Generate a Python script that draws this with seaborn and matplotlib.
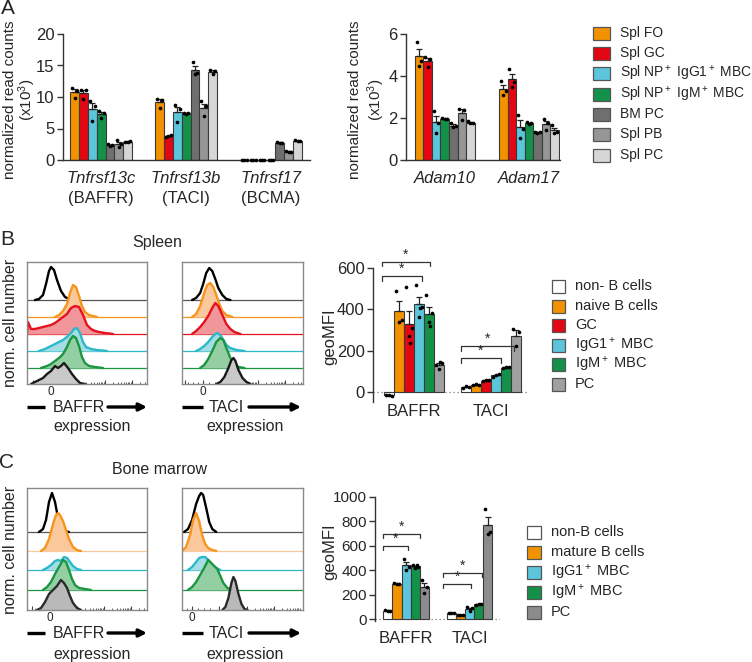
import numpy as np
import pandas as pd
import matplotlib
matplotlib.use('Agg')
import matplotlib.pyplot as plt
from matplotlib.lines import Line2D
from matplotlib.patches import FancyArrowPatch, Rectangle
from matplotlib.container import BarContainer
import seaborn as sns

sns.set_theme(style='ticks')
plt.rcParams['font.family'] = ['Liberation Sans', 'DejaVu Sans']
plt.rcParams['mathtext.fontset'] = 'custom'
plt.rcParams['mathtext.rm'] = 'Liberation Sans'
plt.rcParams['mathtext.it'] = 'Liberation Sans:italic'
plt.rcParams['mathtext.bf'] = 'Liberation Sans:bold'

# ---------------- DATA ----------------
# Panel A: normalized read counts (x10^3), three replicates per cell type
a_cells = ['Spl FO', 'Spl GC', 'Spl NP$^+$ IgG1$^+$ MBC', 'Spl NP$^+$ IgM$^+$ MBC',
           'BM PC', 'Spl PB', 'Spl PC']
a_colors = ['#f39200', '#e30613', '#5bc5dc', '#139148', '#6f6f6f', '#969696', '#d6d6d6']
a_left_genes = ['Tnfrsf13c', 'Tnfrsf13b', 'Tnfrsf17']
a_left_alias = ['(BAFFR)', '(TACI)', '(BCMA)']
a_tnfrsf13c = [[11.5, 10.9, 9.9], [11.1, 11.1, 9.7], [9.3, 8.6, 6.2], [7.8, 7.4, 6.6],
               [2.5, 2.4, 2.3], [3.2, 2.5, 2.0], [2.8, 3.0, 2.9]]
a_tnfrsf13b = [[9.7, 9.6, 8.3], [3.7, 3.9, 3.8], [8.8, 8.1, 6.0], [7.4, 7.5, 7.3],
               [15.5, 13.8, 13.7], [9.3, 8.5, 7.0], [14.3, 14.2, 13.6]]
a_tnfrsf17 = [[0.0, 0.0, 0.0], [0.0, 0.0, 0.0], [0.0, 0.0, 0.0], [0.0, 0.0, 0.0],
              [2.8, 2.7, 2.75], [1.5, 1.2, 1.2], [3.1, 3.0, 3.0]]
a_right_genes = ['Adam10', 'Adam17']
a_adam10 = [[5.6, 4.7, 4.5], [4.9, 4.8, 4.45], [2.35, 1.75, 1.27], [2.0, 1.97, 1.95],
            [1.75, 1.6, 1.55], [2.45, 2.4, 1.9], [1.85, 1.75, 1.75]]
a_adam17 = [[3.75, 3.3, 3.1], [4.35, 3.7, 3.5], [2.15, 1.5, 1.05], [1.8, 1.75, 1.7],
            [1.35, 1.32, 1.3], [1.95, 1.75, 1.45], [1.65, 1.35, 1.3]]

# Panel B: spleen geoMFI
b_cells = ['non- B cells', 'naive B cells', 'GC', 'IgG1$^+$ MBC', 'IgM$^+$ MBC', 'PC']
b_colors = ['#ffffff', '#f39200', '#e30613', '#5bc5dc', '#139148', '#a0a0a0']
b_markers = ['BAFFR', 'TACI']
b_baffr = [[-12, -18, -15], [490, 350, 340], [508, 310, 270, 237], [519, 410, 365, 405],
           [471, 382, 340, 320], [130, 140, 110, 145]]
b_taci = [[22, 25, 28], [33, 36, 37], [52, 56, 58], [75, 85, 82], [115, 120, 119],
          [305, 290, 222]]

# Panel C: bone marrow geoMFI
c_cells = ['non-B cells', 'mature B cells', 'IgG1$^+$ MBC', 'IgM$^+$ MBC', 'PC']
c_colors = ['#ffffff', '#f39200', '#5bc5dc', '#139148', '#8c8c8c']
c_markers = ['BAFFR', 'TACI']
c_baffr = [[75, 70, 65], [295, 290, 288], [490, 425, 405], [445, 430, 420, 440],
           [319, 264, 215]]
c_taci = [[48, 52, 50], [33, 36, 37], [100, 90, 70], [120, 128, 127], [900, 710, 700]]

# Histograms (x: position along expression axis, h: normalized count height)
# Spleen BAFFR: non-B, naive, GC, IgG1+ MBC, IgM+ MBC, PC
hb_baffr_x = [[8, 12, 16, 19, 22, 24, 27, 30, 34, 38, 44],
              [28, 32, 36, 40, 43, 46, 49, 52, 55, 58, 62, 66, 70],
              [0, 1, 4, 8, 12, 16, 20, 24, 28, 32, 36, 40, 44, 48, 52, 56, 60, 64, 68, 72, 78, 86],
              [12, 18, 24, 30, 36, 40, 44, 47, 50, 53, 56, 59, 64, 70, 80],
              [14, 20, 24, 28, 32, 36, 40, 43, 46, 49, 52, 55, 58, 62, 68, 76],
              [4, 8, 12, 16, 20, 24, 28, 31, 34, 37, 41, 45, 49, 53, 58]]
hb_baffr_h = [[0, 1, 5, 16, 29, 33, 30, 20, 9, 3, 0],
              [0, 2, 6, 13, 24, 32, 30, 21, 11, 5, 2, 1, 0],
              [0, 12, 5, 5, 6, 7, 8, 9, 11, 14, 17, 20, 26, 28, 27, 19, 9, 5, 3, 2, 1, 0],
              [0, 2, 5, 8, 11, 14, 18, 22, 23, 18, 9, 4, 2, 1, 0],
              [0, 2, 4, 7, 10, 14, 21, 28, 32, 30, 22, 11, 5, 2, 1, 0],
              [0, 2, 4, 6, 10, 13, 18, 16, 18, 21, 16, 10, 5, 1, 0]]
# Spleen TACI
hb_taci_x = [[10, 14, 18, 21, 24, 27, 30, 33, 36, 40, 44, 48],
             [10, 14, 18, 22, 25, 28, 31, 34, 37, 40, 44, 50],
             [10, 14, 18, 22, 26, 30, 33, 36, 40, 44, 48, 52, 58],
             [14, 18, 22, 26, 30, 33, 35, 38, 41, 44, 48, 54, 62],
             [18, 22, 26, 30, 34, 38, 41, 44, 48, 52, 56, 62],
             [34, 38, 42, 46, 49, 51, 53, 56, 60, 64, 68]]
hb_taci_h = [[0, 2, 7, 16, 27, 32, 29, 21, 12, 5, 1, 0],
             [0, 3, 11, 24, 32, 34, 30, 22, 13, 6, 2, 0],
             [0, 3, 7, 12, 18, 26, 31, 28, 19, 10, 5, 2, 0],
             [0, 2, 5, 9, 14, 17, 18, 16, 11, 6, 3, 1, 0],
             [0, 3, 9, 17, 26, 30, 28, 20, 10, 4, 1, 0],
             [0, 2, 7, 16, 24, 26, 23, 14, 6, 2, 0]]
# Bone marrow BAFFR: non-B, mature, IgG1+ MBC, IgM+ MBC, PC
hc_baffr_x = [[12, 16, 19, 22, 25, 28, 31, 34, 38, 42],
              [14, 18, 22, 26, 29, 31, 33, 36, 39, 42, 46, 50, 54],
              [16, 20, 24, 28, 31, 34, 37, 40, 43, 46, 50, 54],
              [16, 20, 24, 28, 32, 36, 39, 42, 45, 48, 52, 58, 64],
              [10, 14, 18, 22, 26, 30, 34, 37, 40, 43, 46, 50, 54]]
hc_baffr_h = [[0, 3, 12, 30, 39, 30, 14, 4, 1, 0],
              [0, 3, 12, 27, 36, 38, 36, 30, 21, 12, 4, 1, 0],
              [0, 2, 5, 9, 10, 9, 13, 12, 8, 4, 1, 0],
              [0, 3, 8, 16, 23, 30, 28, 20, 11, 5, 2, 1, 0],
              [0, 2, 8, 16, 20, 24, 30, 27, 22, 14, 7, 2, 0]]
# Bone marrow TACI
hc_taci_x = [[2, 6, 10, 14, 17, 19, 21, 24, 27, 30, 34],
             [0, 4, 8, 11, 14, 17, 20, 23, 26, 30, 34],
             [6, 10, 14, 17, 20, 23, 26, 30, 34, 38],
             [6, 10, 14, 18, 22, 26, 29, 32, 35, 38, 41, 45, 50],
             [40, 43, 46, 49, 51, 53, 56, 59, 62, 65]]
hc_taci_h = [[0, 3, 12, 28, 36, 39, 37, 24, 10, 3, 0],
             [0, 4, 16, 31, 38, 30, 16, 7, 3, 1, 0],
             [0, 3, 8, 12, 13, 13, 10, 5, 2, 0],
             [0, 3, 8, 15, 22, 30, 27, 24, 21, 14, 7, 2, 0],
             [0, 3, 12, 27, 33, 29, 16, 6, 1, 0]]

# ---------------- FIGURE ----------------
W, H = 752, 662
fig = plt.figure(figsize=(W / 100, H / 100), dpi=100)
fig.patch.set_facecolor('white')


def px_axes(x0, y0, x1, y1):
    return fig.add_axes([x0 / W, 1 - y1 / H, (x1 - x0) / W, (y1 - y0) / H])


def ftext(x, y, s, **kw):
    kw.setdefault('ha', 'center')
    kw.setdefault('va', 'center')
    fig.text(x / W, 1 - y / H, s, **kw)


def fline(x0, x1, y, lw=2.4):
    fig.add_artist(Line2D([x0 / W, x1 / W], [1 - y / H, 1 - y / H], lw=lw,
                          color='black', solid_capstyle='butt'))


def farrow(x0, x1, y):
    fig.add_artist(FancyArrowPatch((x0 / W, 1 - y / H), (x1 / W, 1 - y / H),
                                   transform=fig.transFigure, arrowstyle='-|>',
                                   mutation_scale=11, lw=2.4, color='black',
                                   shrinkA=0, shrinkB=0))


def legend_box(x, ys, labels, colors, pw, ph, tx, fs=10):
    for y, lab, col in zip(ys, labels, colors):
        fig.add_artist(Rectangle((x / W, 1 - (y + ph / 2) / H), pw / W, ph / H,
                                 transform=fig.transFigure, facecolor=col,
                                 edgecolor='#555555', lw=0.9))
        ftext(tx, y, lab, ha='left', fontsize=fs)


def style_axes(ax, tick_fs):
    sns.despine(ax=ax)
    for sp in ['left', 'bottom']:
        ax.spines[sp].set_color('#333333')
        ax.spines[sp].set_linewidth(1.0)
    ax.tick_params(axis='y', direction='out', length=4, width=1, color='#333333',
                   labelsize=tick_fs, pad=2)
    ax.tick_params(axis='x', length=0, labelbottom=False)
    ax.set_xlabel('')
    ax.set_ylabel('')
    ax.set_facecolor('none')


def bars(ax, groups, cells, reps, colors, width, edge='#3a3a3a', dot_s=7):
    rows = [(g, c, v) for g, per_cell in zip(groups, reps)
            for c, vals in zip(cells, per_cell) for v in vals]
    df = pd.DataFrame(rows, columns=['group', 'cell', 'value'])
    sns.barplot(data=df, x='group', y='value', hue='cell', order=groups, hue_order=cells,
                palette=colors, saturation=1, errorbar=None, width=width,
                edgecolor=edge, linewidth=0.8, legend=False, ax=ax, zorder=2)
    stats = df.groupby(['group', 'cell'])['value'].agg(['mean', 'sem'])
    n = len(cells)
    pos = {}
    offs = [-0.27, 0.27, 0.0, 0.14]
    patches = [p for c in ax.containers if isinstance(c, BarContainer) for p in c]
    for p in patches:
        w = p.get_width()
        xc = p.get_x() + w / 2
        gi = int(round(xc))
        ci = int(round((xc - gi) / (width / n) + (n - 1) / 2))
        pos[(gi, ci)] = (xc, w)
        m = stats.loc[(groups[gi], cells[ci]), 'mean']
        s = stats.loc[(groups[gi], cells[ci]), 'sem']
        if s > 0:
            yerr = [[0], [s]] if m >= 0 else [[s], [0]]
            ax.errorbar([xc], [m], yerr=yerr, fmt='none', ecolor='#222222',
                        elinewidth=0.9, capsize=2.2, capthick=0.9, zorder=3)
        vals = df[(df.group == groups[gi]) & (df.cell == cells[ci])]['value'].values
        xs = [xc + offs[k % 4] * w for k in range(len(vals))]
        ax.scatter(xs, vals, s=dot_s, color='black', lw=0, zorder=4, clip_on=False)
    return pos


def bracket(ax, x0, x1, y, drop, fs=10):
    ax.plot([x0, x0, x1, x1], [y - drop, y, y, y - drop], color='#333333', lw=0.9,
            clip_on=False, zorder=5)
    ax.text((x0 + x1) / 2, y, '*', ha='center', va='bottom', fontsize=fs, clip_on=False)


# ---------- Panel A ----------
axA1 = px_axes(63, 34, 310, 160)
bars(axA1, a_left_genes, a_cells, [a_tnfrsf13c, a_tnfrsf13b, a_tnfrsf17], a_colors,
     width=0.73, dot_s=7)
axA1.set_ylim(0, 20)
axA1.set_yticks([0, 5, 10, 15, 20])
axA1.set_xlim(-0.45, 2.46)
style_axes(axA1, 12)
for i, (g, al) in enumerate(zip(a_left_genes, a_left_alias)):
    axA1.annotate(g, xy=(i, 0), xycoords=('data', 'axes fraction'), xytext=(0, -13.5),
                  textcoords='offset points', ha='center', va='center', fontsize=12,
                  style='italic')
    axA1.annotate(al, xy=(i, 0), xycoords=('data', 'axes fraction'), xytext=(0, -27.5),
                  textcoords='offset points', ha='center', va='center', fontsize=12)

axA2 = px_axes(406, 34, 560, 160)
bars(axA2, a_right_genes, a_cells, [a_adam10, a_adam17], a_colors, width=0.71, dot_s=7)
axA2.set_ylim(0, 6)
axA2.set_yticks([0, 2, 4, 6])
axA2.set_xlim(-0.46, 1.37)
style_axes(axA2, 12)
for i, g in enumerate(a_right_genes):
    axA2.annotate(g, xy=(i, 0), xycoords=('data', 'axes fraction'), xytext=(0, -13.5),
                  textcoords='offset points', ha='center', va='center', fontsize=12,
                  style='italic')

for xl in (10, 355):
    ftext(xl, 100, 'normalized read counts', rotation=90, fontsize=11)
for xl in (27, 376):
    ftext(xl, 100, '(x10$^3$)', rotation=90, fontsize=11)

legend_box(593, [33, 53, 73, 94, 114, 134, 155], a_cells, a_colors, 17, 13, 620, fs=10)

ftext(8, 8, 'A', fontsize=15)
ftext(7, 239, 'B', fontsize=15)
ftext(7, 462, 'C', fontsize=15)


# ---------- Histograms ----------
def hist_panel(ax, xs_list, hs_list, bases, line_cols, fill_cols, base_cols, zero_pos):
    ax.set_xlim(0, 120)
    ax.set_ylim(0, 122)
    for i, (xs, hs, b, lc, fc, bc) in enumerate(zip(xs_list, hs_list, bases, line_cols,
                                                     fill_cols, base_cols)):
        z = 2 + i * 3
        if b > 0:
            ax.axhline(b, color=bc, lw=0.9, zorder=z)
        xa = np.asarray(xs, dtype=float)
        ya = b + np.asarray(hs, dtype=float)
        if fc is not None:
            ax.fill_between(xa, b, ya, color=fc, lw=0, zorder=z + 1)
        ax.plot(xa, ya, color=lc, lw=1.7, zorder=z + 2, solid_joinstyle='round',
                solid_capstyle='round')
    for sp in ax.spines.values():
        sp.set_color('#8a8a8a')
        sp.set_linewidth(1.0)
        sp.set_zorder(40)
    ax.set_yticks([])
    majors = [zero_pos - 18, zero_pos, zero_pos + 27, zero_pos + 54, zero_pos + 81]
    majors = [m for m in majors if 0 < m < 120]
    ax.set_xticks(majors)
    ax.set_xticklabels(['0' if m == zero_pos else '' for m in majors])
    minors = []
    for d in [zero_pos + 27, zero_pos + 54, zero_pos + 81]:
        for k in range(2, 10):
            v = d + 27 * np.log10(k)
            if 0 < v < 120:
                minors.append(v)
    for k in range(1, 4):
        minors.append(zero_pos - 5 * k)
        minors.append(zero_pos + 6 * k)
    ax.set_xticks([m for m in minors if 0 < m < 120], minor=True)
    ax.tick_params(axis='x', which='major', direction='in', length=3, width=0.8,
                   color='#444444', labelsize=8.5, pad=1.5)
    ax.tick_params(axis='x', which='minor', direction='in', length=1.6, width=0.6,
                   color='#444444')
    ax.set_facecolor('white')


hb_lines = ['#000000', '#f7941d', '#e3121d', '#2bb8c9', '#1a9641', '#1a1a1a']
hb_fills = [None, '#fbc89b', '#f1979b', '#a5dde4', '#93cfa2', '#c9c9c9']
hb_bases = [84, 67, 50, 33, 16, 0]
hb_basecol = ['#555555', '#f7941d', '#e3121d', '#2bb8c9', '#1a9641', '#8a8a8a']

axB1 = px_axes(27, 262, 147, 384)
hist_panel(axB1, hb_baffr_x, hb_baffr_h, hb_bases, hb_lines, hb_fills, hb_basecol, 24)
axB2 = px_axes(182, 262, 303, 384)
hist_panel(axB2, hb_taci_x, hb_taci_h, hb_bases, hb_lines, hb_fills, hb_basecol, 21)

hc_lines = ['#000000', '#f7941d', '#2bb8c9', '#1a9641', '#2a2a2a']
hc_fills = [None, '#fbc89b', '#a5dde4', '#93cfa2', '#b9b9b9']
hc_bases = [78, 59, 40, 20, 0]
hc_basecol = ['#555555', '#fbc89b', '#2bb8c9', '#1a9641', '#8a8a8a']

axC1 = px_axes(27, 488, 147, 610)
hist_panel(axC1, hc_baffr_x, hc_baffr_h, hc_bases, hc_lines, hc_fills, hc_basecol, 23)
axC2 = px_axes(182, 488, 303, 610)
hist_panel(axC2, hc_taci_x, hc_taci_h, hc_bases, hc_lines, hc_fills, hc_basecol, 10)

ftext(157, 243, 'Spleen', fontsize=11.5)
ftext(160, 470, 'Bone marrow', fontsize=11.5)
ftext(11, 323, 'norm. cell number', rotation=90, fontsize=11.5)
ftext(11, 550, 'norm. cell number', rotation=90, fontsize=11.5)

for yA, yE in ((407, 426), (633, 654)):
    fline(27, 45, yA)
    ftext(79, yA, 'BAFFR', fontsize=11.5)
    farrow(108, 147, yA)
    ftext(92, yE, 'expression', fontsize=11.5)
    fline(182, 203, yA)
    ftext(226, yA, 'TACI', fontsize=11.5)
    farrow(249, 301, yA)
    ftext(245, yE, 'expression', fontsize=11.5)


# ---------- Panel B bars ----------
def mfi_axes(ax, ylim, yticks, tick_fs):
    ax.set_ylim(*ylim)
    ax.set_yticks(yticks)
    style_axes(ax, tick_fs)
    ax.spines['bottom'].set_visible(False)
    ax.axhline(0, color='#777777', lw=0.9, ls=(0, (1, 2.2)), zorder=1)


axBb = px_axes(373, 268, 528, 402)
posB = bars(axBb, b_markers, b_cells, [b_baffr, b_taci], b_colors, width=0.78, dot_s=7)
axBb.set_xlim(-0.53, 1.48)
mfi_axes(axBb, (-48, 600), [0, 200, 400, 600], 12)
for i, m in enumerate(b_markers):
    axBb.annotate(m, xy=(i, 0), xycoords='data', xytext=(0, -14), textcoords='offset points',
                  ha='center', va='center', fontsize=12)
ftext(330, 337, 'geoMFI', rotation=90, fontsize=12)


def bx(pos, gi, ci, frac):
    xc, w = pos[(gi, ci)]
    return xc + frac * w


bracket(axBb, bx(posB, 0, 0, -0.7), bx(posB, 0, 3, 0.3), 561, 22)
bracket(axBb, bx(posB, 0, 0, -0.7), bx(posB, 0, 4, 0.1), 630, 22)
bracket(axBb, bx(posB, 1, 0, -0.5), bx(posB, 1, 3, 0.5), 165, 22)
bracket(axBb, bx(posB, 1, 0, -0.5), bx(posB, 1, 4, 0.8), 222, 22)
legend_box(552, [286, 306, 325, 345, 364, 384], b_cells, b_colors, 13, 13, 575, fs=10.5)

# ---------- Panel C bars ----------
axCb = px_axes(375, 497, 500, 621)
posC = bars(axCb, c_markers, c_cells, [c_baffr, c_taci], c_colors, width=0.72, dot_s=7)
axCb.set_xlim(-0.49, 1.48)
mfi_axes(axCb, (-15, 1000), [0, 200, 400, 600, 800, 1000], 11)
for i, m in enumerate(c_markers):
    axCb.annotate(m, xy=(i, 0), xycoords='data', xytext=(0, -14), textcoords='offset points',
                  ha='center', va='center', fontsize=12)
ftext(330, 552, 'geoMFI', rotation=90, fontsize=12)
bracket(axCb, bx(posC, 0, 0, -0.5), bx(posC, 0, 2, 0.2), 598, 30)
bracket(axCb, bx(posC, 0, 0, -0.5), bx(posC, 0, 3, 0.5), 697, 30)
bracket(axCb, bx(posC, 1, 0, -0.9), bx(posC, 1, 2, 0.2), 287, 30)
bracket(axCb, bx(posC, 1, 0, -0.9), bx(posC, 1, 4, -0.6), 377, 30)
legend_box(527, [532, 552, 572, 592, 612], c_cells, c_colors, 14, 13, 551, fs=10.5)

fig.savefig('out.png', dpi=100, facecolor='white')
